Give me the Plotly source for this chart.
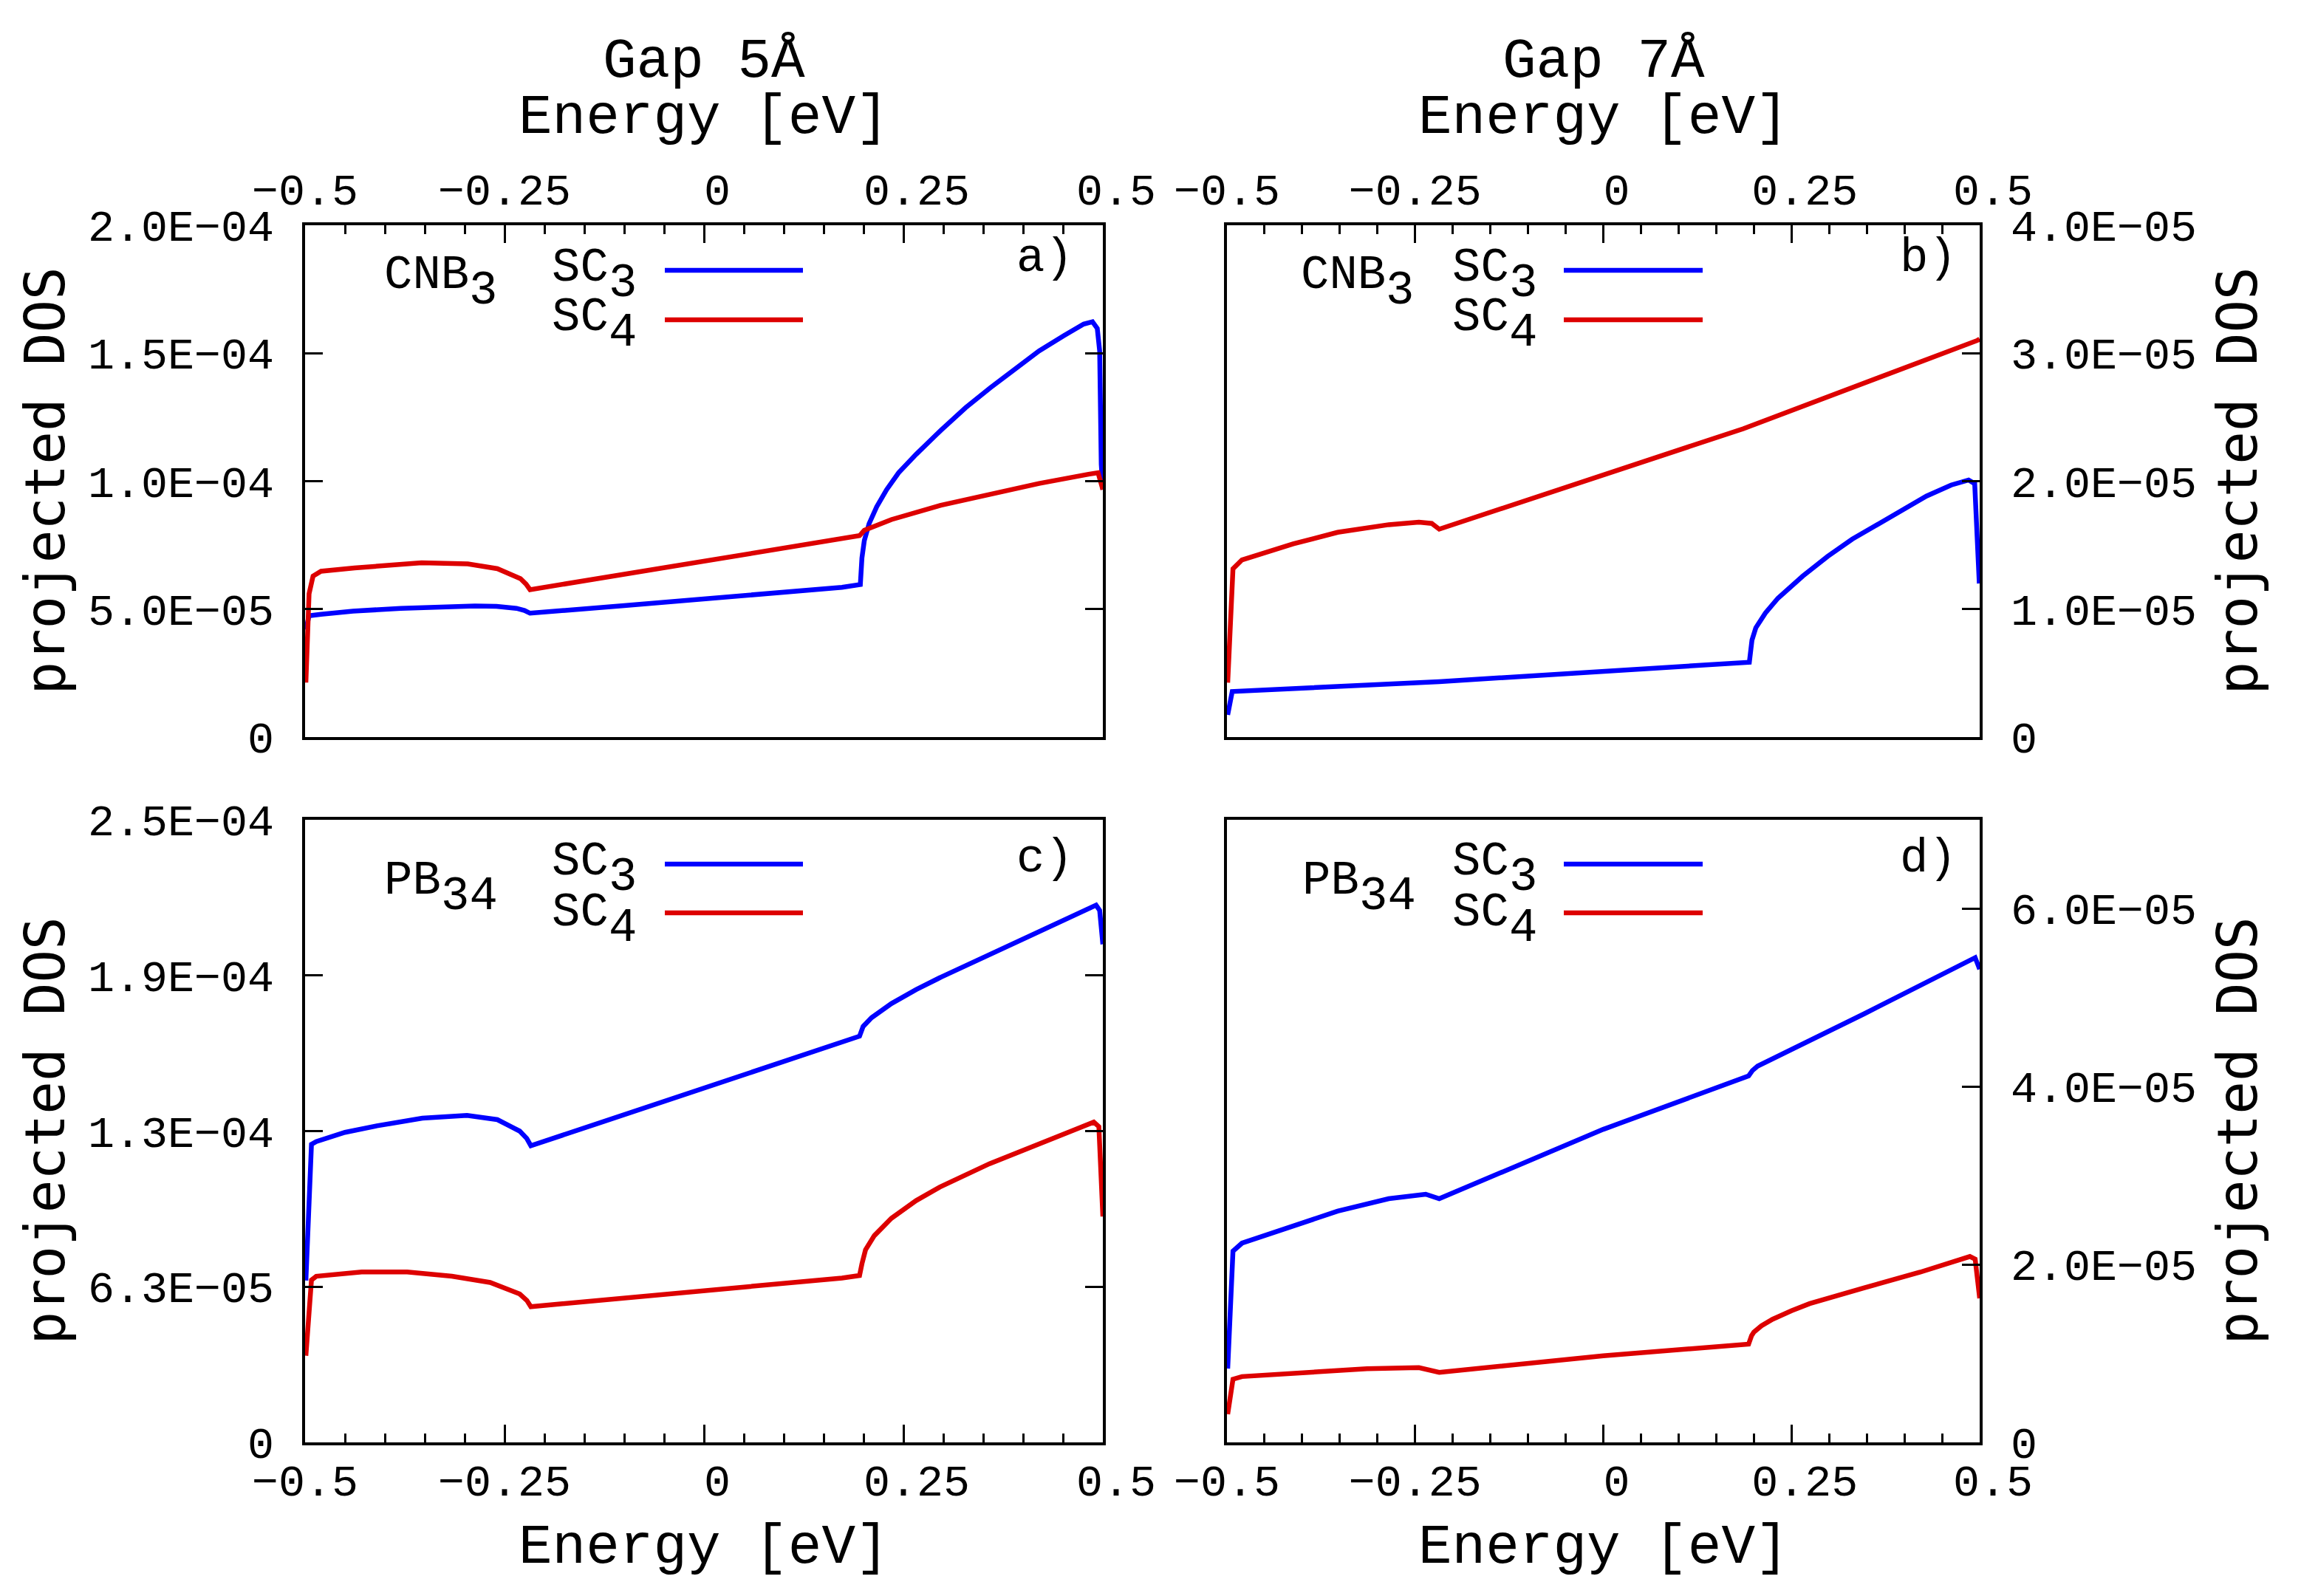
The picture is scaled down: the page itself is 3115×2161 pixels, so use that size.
import plotly.graph_objects as go

# ---------------- data ----------------
# Panel a) Gap 5A, CNB3
a_sc3_E = [-0.499, -0.495, -0.48, -0.44, -0.38, -0.32, -0.287, -0.26, -0.235, -0.225, -0.218,
           -0.1, 0.0, 0.1, 0.173, 0.196, 0.198, 0.201, 0.207, 0.2165, 0.229, 0.244, 0.266,
           0.297, 0.328, 0.359, 0.39, 0.42, 0.4515, 0.476, 0.487, 0.493, 0.496, 0.498, 0.5]
a_sc3 = [4.2e-5, 4.74e-5, 4.8e-5, 4.92e-5, 5.03e-5, 5.1e-5, 5.12e-5, 5.11e-5, 5.03e-5, 4.95e-5, 4.84e-5,
         5.14e-5, 5.4e-5, 5.66e-5, 5.85e-5, 5.96e-5, 7.0e-5, 7.68e-5, 8.34e-5, 9.0e-5, 9.67e-5, 1.033e-4, 1.105e-4,
         1.199e-4, 1.287e-4, 1.365e-4, 1.437e-4, 1.509e-4, 1.569e-4, 1.614e-4, 1.623e-4, 1.597e-4, 1.509e-4,
         1.066e-4, 9.67e-5]
a_sc4_E = [-0.499, -0.495, -0.49, -0.48, -0.438, -0.354, -0.296, -0.259, -0.23, -0.223, -0.218,
           0.173, 0.195, 0.201, 0.235, 0.297, 0.358, 0.42, 0.482, 0.494, 0.5]
a_sc4 = [2.13e-5, 5.6e-5, 6.29e-5, 6.48e-5, 6.61e-5, 6.81e-5, 6.77e-5, 6.58e-5, 6.19e-5, 5.98e-5, 5.76e-5,
         7.76e-5, 7.87e-5, 8.08e-5, 8.5e-5, 9.06e-5, 9.5e-5, 9.91e-5, 1.027e-4, 1.033e-4, 9.67e-5]

# Panel b) Gap 7A, CNB3
b_sc3_E = [-0.499, -0.493, -0.218, 0.1663, 0.194, 0.1975, 0.2026, 0.2154, 0.232, 0.265, 0.298,
           0.3307, 0.3636, 0.3965, 0.4293, 0.4622, 0.4853, 0.4934, 0.495, 0.4995]
b_sc3 = [1.74e-6, 3.56e-6, 4.33e-6, 5.71e-6, 5.85e-6, 7.58e-6, 8.54e-6, 9.7e-6, 1.085e-5, 1.258e-5, 1.412e-5,
         1.547e-5, 1.662e-5, 1.778e-5, 1.883e-5, 1.97e-5, 2.009e-5, 1.98e-5, 1.72e-5, 1.2e-5]
b_sc4_E = [-0.499, -0.492, -0.48, -0.412, -0.353, -0.285, -0.245, -0.228, -0.218, 0.186, 0.497, 0.5]
b_sc4 = [4.25e-6, 1.315e-5, 1.385e-5, 1.51e-5, 1.6e-5, 1.66e-5, 1.68e-5, 1.67e-5, 1.625e-5, 2.41e-5,
         3.1e-5, 3.11e-5]

# Panel c) Gap 5A, PB34
c_sc3_E = [-0.499, -0.492, -0.486, -0.45, -0.41, -0.353, -0.297, -0.259, -0.231, -0.222, -0.217,
           0.173, 0.195, 0.1995, 0.21, 0.235, 0.266, 0.297, 0.358, 0.42, 0.482, 0.4915, 0.496, 0.5]
c_sc3 = [6.5e-5, 1.197e-4, 1.208e-4, 1.245e-4, 1.271e-4, 1.302e-4, 1.313e-4, 1.296e-4, 1.25e-4, 1.22e-4, 1.191e-4,
         1.607e-4, 1.631e-4, 1.67e-4, 1.705e-4, 1.762e-4, 1.818e-4, 1.868e-4, 1.96e-4, 2.051e-4, 2.143e-4,
         2.157e-4, 2.136e-4, 2.0e-4]
c_sc4_E = [-0.499, -0.492, -0.486, -0.429, -0.372, -0.316, -0.268, -0.231, -0.222, -0.217, 0.173, 0.195,
           0.198, 0.2025, 0.2135, 0.235, 0.266, 0.297, 0.358, 0.42, 0.482, 0.4886, 0.495, 0.5]
c_sc4 = [3.48e-5, 6.52e-5, 6.67e-5, 6.84e-5, 6.84e-5, 6.67e-5, 6.42e-5, 5.96e-5, 5.7e-5, 5.45e-5, 6.6e-5, 6.7e-5,
         7.17e-5, 7.73e-5, 8.3e-5, 9.0e-5, 9.71e-5, 1.0275e-4, 1.119e-4, 1.197e-4, 1.277e-4, 1.286e-4,
         1.268e-4, 9.07e-5]

# Panel d) Gap 7A, PB34
d_sc3_E = [-0.499, -0.492, -0.48, -0.412, -0.353, -0.285, -0.236, -0.218, 0.0, 0.193, 0.198, 0.205,
           0.347, 0.494, 0.5]
d_sc3 = [8.3e-6, 2.15e-5, 2.24e-5, 2.44e-5, 2.6e-5, 2.74e-5, 2.79e-5, 2.74e-5, 3.52e-5, 4.12e-5, 4.18e-5,
         4.23e-5, 4.82e-5, 5.45e-5, 5.32e-5]
d_sc4_E = [-0.499, -0.492, -0.48, -0.412, -0.314, -0.245, -0.218, 0.0, 0.193, 0.197, 0.2, 0.21, 0.225,
           0.25, 0.274, 0.347, 0.421, 0.487, 0.494, 0.5]
d_sc4 = [3.17e-6, 7.1e-6, 7.4e-6, 7.8e-6, 8.28e-6, 8.4e-6, 7.87e-6, 9.74e-6, 1.104e-5, 1.2e-5, 1.239e-5,
         1.31e-5, 1.385e-5, 1.48e-5, 1.56e-5, 1.738e-5, 1.914e-5, 2.09e-5, 2.06e-5, 1.62e-5]

NB = "\u00a0"
x_tickvals = [-0.5, -0.25, 0, 0.25, 0.5]
x_ticktext = ["\u22120.5", "\u22120.25", NB + "0", NB + "0.25", NB + "0.5"]

ya_vals = [0, 5e-5, 1e-4, 1.5e-4, 2e-4]
ya_text = ["0", "5.0E\u221205", "1.0E\u221204", "1.5E\u221204", "2.0E\u221204"]
yb_vals = [0, 1e-5, 2e-5, 3e-5, 4e-5]
yb_text = ["0", "1.0E\u221205", "2.0E\u221205", "3.0E\u221205", "4.0E\u221205"]
yc_vals = [0, 6.25e-5, 1.25e-4, 1.875e-4, 2.5e-4]
yc_text = ["0", "6.3E\u221205", "1.3E\u221204", "1.9E\u221204", "2.5E\u221204"]
yd_vals = [0, 2e-5, 4e-5, 6e-5]
yd_text = ["0", "2.0E\u221205", "4.0E\u221205", "6.0E\u221205"]
y_ranges = [[0, 2e-4], [0, 4e-5], [0, 2.5e-4], [0, 7e-5]]

panel_names = ["a)", "b)", "c)", "d)"]
compound_main = ["CNB", "CNB", "PB", "PB"]
compound_sub = ["3", "3", "34", "34"]
series_main = "SC"
series_sub = ["3", "4"]
gap_titles = ["Gap 5\u00c5", "Gap 7\u00c5"]

BLUE = "#0000ff"
RED = "#dd0000"

# ---------------- layout geometry (target pixels, compensated for 8px page margin) ----------------
W, H = 3115, 2161
OFF = 8
def px(x):
    return (x - OFF) / W
def py(y):
    return 1 - (y - OFF) / H

xl = [px(413), px(1493)]
xr = [px(1661), px(2680)]
yt = [py(998), py(305)]
yb = [py(1953), py(1110)]

TICKFONT = dict(family="Liberation Mono", size=60, color="black")
TITLEFONT = dict(family="Liberation Mono", size=76, color="black")
LABELFONT = dict(family="DejaVu Sans Mono", size=74, color="black")
LEGFONT = dict(family="Liberation Mono", size=64, color="black")
ADV = 0.6 * 64  # monospace advance

fig = go.Figure()

data = [
    (a_sc3_E, a_sc3, a_sc4_E, a_sc4),
    (b_sc3_E, b_sc3, b_sc4_E, b_sc4),
    (c_sc3_E, c_sc3, c_sc4_E, c_sc4),
    (d_sc3_E, d_sc3, d_sc4_E, d_sc4),
]
for i, (e3, v3, e4, v4) in enumerate(data):
    xa = "x" if i == 0 else f"x{i+1}"
    ya = "y" if i == 0 else f"y{i+1}"
    fig.add_trace(go.Scatter(x=e3, y=v3, mode="lines", line=dict(color=BLUE, width=6.5),
                             xaxis=xa, yaxis=ya, showlegend=False, name="SC3"))
    fig.add_trace(go.Scatter(x=e4, y=v4, mode="lines", line=dict(color=RED, width=6.5),
                             xaxis=xa, yaxis=ya, showlegend=False, name="SC4"))

def xaxis(domain, side, anchor, standoff):
    return dict(domain=domain, range=[-0.5, 0.5], side=side, anchor=anchor, automargin=False,
                tickvals=x_tickvals, ticktext=x_ticktext, ticks="inside", ticklen=24,
                tickwidth=3, tickcolor="black",
                minor=dict(dtick=0.05, tick0=0, ticks="inside", ticklen=12, tickwidth=3, tickcolor="black"),
                showline=True, linewidth=4, linecolor="black", mirror=True,
                showgrid=False, zeroline=False, tickfont=TICKFONT, ticklabelstandoff=standoff)

def yaxis(domain, side, anchor, vals, text, rng, mirror):
    return dict(domain=domain, range=rng, side=side, anchor=anchor, automargin=False,
                tickvals=vals, ticktext=text, ticks="inside", ticklen=24, tickwidth=3,
                tickcolor="black", showline=True, linewidth=4, linecolor="black",
                mirror=mirror, showgrid=False, zeroline=False, tickfont=TICKFONT,
                ticklabelstandoff=26)

fig.update_layout(
    width=W, height=H, margin=dict(l=0, r=0, t=0, b=0, pad=0, autoexpand=False),
    paper_bgcolor="white", plot_bgcolor="white", showlegend=False,
    xaxis=xaxis(xl, "top", "y", 0),
    xaxis2=xaxis(xr, "top", "y2", 0),
    xaxis3=xaxis(xl, "bottom", "y3", -4),
    xaxis4=xaxis(xr, "bottom", "y4", -4),
    yaxis=yaxis(yt, "left", "x", ya_vals, ya_text, y_ranges[0], "ticks"),
    yaxis2=yaxis(yt, "right", "x2", yb_vals, yb_text, y_ranges[1], True),
    yaxis3=yaxis(yb, "left", "x3", yc_vals, yc_text, y_ranges[2], "ticks"),
    yaxis4=yaxis(yb, "right", "x4", yd_vals, yd_text, y_ranges[3], True),
)

ann = []
shapes = []
# column titles
for j, cx in enumerate([(413 + 1493) / 2, (1661 + 2680) / 2]):
    ann.append(dict(text=gap_titles[j], x=px(cx), y=py(84), xref="paper", yref="paper",
                    showarrow=False, font=TITLEFONT, xanchor="center", yanchor="middle"))
    ann.append(dict(text="Energy [eV]", x=px(cx), y=py(160), xref="paper", yref="paper",
                    showarrow=False, font=TITLEFONT, xanchor="center", yanchor="middle"))
    ann.append(dict(text="Energy [eV]", x=px(cx), y=py(2096), xref="paper", yref="paper",
                    showarrow=False, font=TITLEFONT, xanchor="center", yanchor="middle"))
# y titles
for cy in [(305 + 998) / 2, (1110 + 1953) / 2]:
    ann.append(dict(text="projected DOS", x=px(60), y=py(cy), xref="paper", yref="paper",
                    showarrow=False, font=LABELFONT, textangle=-90, xanchor="center", yanchor="middle"))
    ann.append(dict(text="projected DOS", x=px(3028), y=py(cy), xref="paper", yref="paper",
                    showarrow=False, font=LABELFONT, textangle=-90, xanchor="center", yanchor="middle"))

# per-panel legend and labels (pixel targets inside each panel)
panel_left = [413, 1661, 413, 1661]
panel_w = [1080, 1019, 1080, 1019]
panel_top = [305, 305, 1110, 1110]
panel_h = [693, 693, 843, 843]
cmp_x = [519, 1760, 519, 1762]
sc_x = [746, 1965, 746, 1965]
line_x = [(900, 1087), (2117, 2305), (900, 1087), (2117, 2305)]
line_y = [(366, 433), (366, 433), (1170, 1236), (1170, 1236)]
sc_y = [(363, 430), (363, 430), (1167, 1236), (1167, 1236)]
cmp_y = [373, 373, 1193, 1193]
lab_x = [1454, 2650, 1454, 2650]
lab_y = [350, 350, 1163, 1163]
SUB_DROP = 21

for i in range(4):
    xd = "x domain" if i == 0 else f"x{i+1} domain"
    yd = "y domain" if i == 0 else f"y{i+1} domain"
    fx = lambda p: (p - panel_left[i]) / panel_w[i]
    fy = lambda p: 1 - (p - panel_top[i]) / panel_h[i]
    common = dict(xref=xd, yref=yd, showarrow=False, font=LEGFONT, borderpad=0,
                  xanchor="left", yanchor="middle")
    # compound label
    ann.append(dict(text=compound_main[i], x=fx(cmp_x[i]), y=fy(cmp_y[i]), **common))
    ann.append(dict(text=compound_sub[i], x=fx(cmp_x[i] + ADV * len(compound_main[i])),
                    y=fy(cmp_y[i] + SUB_DROP), **common))
    # series labels + line keys
    for k, col in enumerate([BLUE, RED]):
        ann.append(dict(text=series_main, x=fx(sc_x[i]), y=fy(sc_y[i][k]), **common))
        ann.append(dict(text=series_sub[k], x=fx(sc_x[i] + ADV * len(series_main)),
                        y=fy(sc_y[i][k] + SUB_DROP), **common))
        shapes.append(dict(type="line", xref=xd, yref=yd, x0=fx(line_x[i][0]), x1=fx(line_x[i][1]),
                           y0=fy(line_y[i][k]), y1=fy(line_y[i][k]), line=dict(color=col, width=6.5)))
    ann.append(dict(text=panel_names[i], x=fx(lab_x[i]), y=fy(lab_y[i]), xref=xd, yref=yd,
                    showarrow=False, font=LEGFONT, borderpad=0, xanchor="right", yanchor="middle"))

fig.update_layout(annotations=ann, shapes=shapes)
fig.write_html("out.html")
